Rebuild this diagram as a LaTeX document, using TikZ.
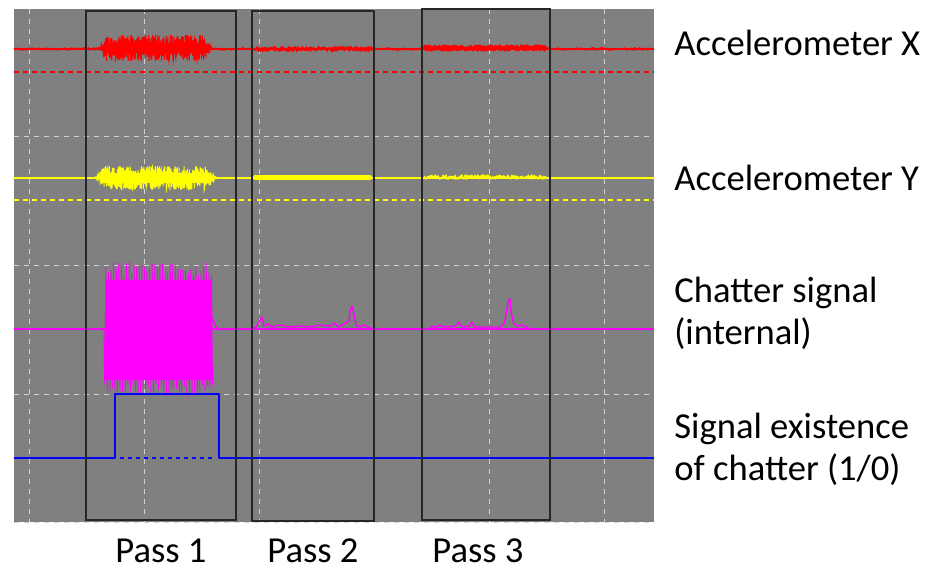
\documentclass[tikz,border=0pt]{standalone}
\usepackage{fontspec}
\setmainfont{Carlito}
\usepackage{tikz}
\usetikzlibrary{positioning,calc}

\definecolor{scopegrey}{RGB}{128,128,128}
\definecolor{gridgrey}{RGB}{210,210,210}
\definecolor{sigred}{RGB}{255,0,0}
\definecolor{sigyellow}{RGB}{255,255,0}
\definecolor{sigmagenta}{RGB}{255,0,255}
\definecolor{sigblue}{RGB}{0,0,255}

\begin{document}
\begin{tikzpicture}[
        x=0.5pt, y=-0.5pt,
        gridline/.style={draw=gridgrey, line width=0.5pt, dash pattern=on 2.5pt off 2.5pt},
        trace/.style={line width=0.7pt, line join=round},
        zeroline/.style={line width=0.7pt, dash pattern=on 2.5pt off 2pt},
        passbox/.style={draw=black!85, line width=0.8pt},
        label/.style={anchor=west, inner sep=0pt, align=left, font=\fontsize{18.3}{21}\selectfont},
        passlabel/.style={inner sep=0pt, font=\fontsize{18.3}{21}\selectfont}
        ]
        \useasboundingbox (0,0) rectangle (934,569);
        \pgfmathsetseed{11}

        % Scope screen
        \fill[scopegrey] (14,9) rectangle (654,522);
        \foreach \gx in {29,144,259,374,489,604}
            \draw[gridline] (\gx,9) -- (\gx,522);
        \foreach \gy in {136,265,394,522}
            \draw[gridline] (14,\gy) -- (654,\gy);

        % Accelerometer X
        \draw[trace, sigred] (14,49) -- (654,49);
        \draw[zeroline, sigred] (14,72) -- (654,72);
        \draw[trace, sigred] plot[domain=14:654, samples=500] (\x,{49+1.2*rand});
        \draw[sigred, line width=5pt, line cap=round] (108,48) -- (204,48);
        \draw[sigred, line width=0.5pt] plot[domain=100:212, samples=600]
            (\x,{48+rand*13*min(1,(\x-100)/5,(212-\x)/9)});
        \draw[trace, sigred] plot[domain=255:372, samples=220] (\x,{49+2.6*rand});
        \draw[trace, sigred, line width=1.4pt] plot[domain=424:546, samples=240] (\x,{48+2.4*rand});

        % Accelerometer Y
        \draw[trace, sigyellow] (14,178) -- (654,178);
        \draw[zeroline, sigyellow] (14,200) -- (654,200);
        \draw[sigyellow, line width=5pt, line cap=round] (104,178) -- (208,178);
        \draw[sigyellow, line width=0.5pt] plot[domain=95:217, samples=600]
            (\x,{178+rand*12*min(1,(\x-95)/9,(217-\x)/12)});
        \draw[sigyellow, line width=2.2pt, line cap=round] (255,177.5) -- (370,177.5);
        \draw[trace, sigyellow] plot[domain=424:546, samples=200] (\x,{177+2.2*rand});

        % Chatter signal (internal)
        \draw[trace, sigmagenta] (14,329) -- (654,329);
        \fill[sigmagenta] (105,280) rectangle (212,380);
        \draw[sigmagenta, line width=0.4pt] plot[domain=104:213, samples=700]
            (\x,{329+(50+18*rnd)*sin((\x-104)*140)});
        \draw[trace, sigmagenta] (212,318) -- (214,322) -- (216,327) -- (219,329);
        \draw[trace, sigmagenta] (252,329) -- (256,327) -- (259,322) -- (262,317) -- (264,326)
            -- (268,324) -- (272,327) -- (280,325) -- (290,327) -- (300,326) -- (310,327)
            -- (320,325) -- (330,326) -- (335,323) -- (338,327) -- (342,325) -- (346,323)
            -- (349,321) -- (350,312) -- (352,306) -- (354,314) -- (356,325) -- (360,327)
            -- (364,325) -- (368,327) -- (372,329);
        \draw[trace, sigmagenta] (430,329) -- (432,326) -- (436,327) -- (440,325) -- (444,327)
            -- (456,326) -- (459,322) -- (462,327) -- (470,326) -- (472,322) -- (475,327)
            -- (500,327) -- (504,324) -- (506,315) -- (508,302) -- (510,299) -- (511,312)
            -- (514,324) -- (518,326) -- (522,325) -- (526,327) -- (530,329);

        % Signal existence of chatter
        \draw[trace, sigblue, line width=1.2pt] (14,458) -- (115,458) -- (115,394)
            -- (219,394) -- (219,458) -- (654,458);
        \draw[sigblue, line width=1pt, dash pattern=on 2pt off 2pt] (120,458) -- (215,458);

        % Pass boxes
        \draw[passbox] (86,11) rectangle (236,520);
        \draw[passbox] (252,11) rectangle (374,521);
        \draw[passbox] (422,9) rectangle (550,520);

        % Labels
        \node[passlabel] (pass1) at (161,551) {Pass 1};
        \node[passlabel] (pass2) at (313,551) {Pass 2};
        \node[passlabel] (pass3) at (478,551) {Pass 3};

        \node[label] (accx) at (674,43) {Accelerometer X};
        \node[label] (accy) at (674,178) {Accelerometer Y};
        \node[label] (chat) at (674,313) {Chatter signal\\(internal)};
        \node[label] (exist) at (674,449) {Signal existence\\of chatter (1/0)};

    \end{tikzpicture}
\end{document}
